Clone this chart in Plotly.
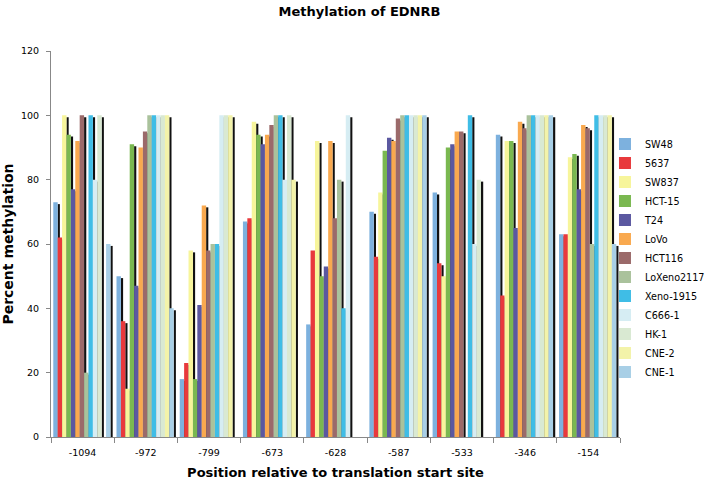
import plotly.graph_objects as go

categories = ["-1094", "-972", "-799", "-673", "-628", "-587", "-533", "-346", "-154"]

series_names = ["SW48", "5637", "SW837", "HCT-15", "T24", "LoVo", "HCT116",
                "LoXeno2117", "Xeno-1915", "C666-1", "HK-1", "CNE-2", "CNE-1"]

series_colors = ["#7DB1DE", "#E8393C", "#F7F59B", "#7AB850", "#5B58A0", "#F9A94F",
                 "#9B6A6A", "#AAC29C", "#3FBDE6", "#D6EDF3", "#D9E9D2", "#F3F3A9", "#A8CFE6"]

SW48 = [73, 50, 18, 67, 35, 70, 76, 94, 63]
v5637 = [62, 36, 23, 68, 58, 56, 54, 44, 63]
SW837 = [100, 15, 58, 98, 92, 76, 50, 92, 87]
HCT15 = [94, 91, 18, 94, 50, 89, 90, 92, 88]
T24 = [77, 47, 41, 91, 53, 93, 91, 65, 77]
LoVo = [92, 90, 72, 94, 92, 92, 95, 98, 97]
HCT116 = [100, 95, 58, 97, 68, 99, 95, 96, 96]
LoXeno2117 = [20, 100, 60, 100, 80, 100, None, 100, 60]
Xeno1915 = [100, 100, 60, 100, 40, 100, 100, 100, 100]
C666_1 = [80, 100, 100, 80, 100, 100, 60, 100, 100]
HK_1 = [100, 100, 100, 100, None, 100, 80, 100, 100]
CNE_2 = [None, 100, 100, 80, None, 100, None, 100, 100]
CNE_1 = [60, 40, None, None, None, 100, None, 100, 60]

series_values = [SW48, v5637, SW837, HCT15, T24, LoVo, HCT116,
                 LoXeno2117, Xeno1915, C666_1, HK_1, CNE_2, CNE_1]

n = len(series_names)
w = 0.0696
start = -0.464
shadow_drop = 0.6

fig = go.Figure()

# shadows (drawn first, behind all bars)
for i, vals in enumerate(series_values):
    sh = [None if v is None else max(v - shadow_drop, 0) for v in vals]
    fig.add_trace(go.Bar(
        x=categories, y=sh, width=w * 0.5, offset=start + (i + 1) * w,
        marker=dict(color="#111111", line=dict(width=0)),
        showlegend=False, hoverinfo="skip"))

for i, (name, vals) in enumerate(zip(series_names, series_values)):
    fig.add_trace(go.Bar(
        x=categories, y=vals, name=name, width=w, offset=start + i * w,
        marker=dict(color=series_colors[i], line=dict(width=0))))

fig.update_layout(
    width=709, height=481,
    barmode="overlay",
    paper_bgcolor="white", plot_bgcolor="white",
    margin=dict(l=51, r=89, t=51, b=44, autoexpand=False),
    font=dict(family="DejaVu Sans", size=10, color="#000000"),
    title=dict(text="<b>Methylation of EDNRB</b>", x=0.507, xanchor="center",
               y=1 - 11 / 481, yanchor="middle",
               font=dict(family="DejaVu Sans", size=13, color="#000000")),
    legend=dict(x=0.9736, xanchor="left", y=0.464, yanchor="middle",
                bgcolor="rgba(0,0,0,0)", font=dict(family="DejaVu Sans", size=9.6),
                itemwidth=30, tracegroupgap=0),
    showlegend=True,
)

fig.update_xaxes(
    type="category", range=[-0.5, 8.5], showgrid=False, showline=True,
    linecolor="#888888", linewidth=1,
    ticks="outside", tickson="boundaries", ticklen=5, tickcolor="#888888",
    ticklabelstandoff=7,
    tickfont=dict(family="DejaVu Sans", size=9.5), automargin=False,
    title=dict(text="<b>Position relative to translation start site</b>",
               font=dict(family="DejaVu Sans", size=13), standoff=10),
)
fig.update_yaxes(
    range=[0, 120], dtick=20, showgrid=False, showline=True, linecolor="#888888",
    linewidth=1, ticks="outside", ticklen=4, tickcolor="#888888", ticklabelstandoff=5,
    tickfont=dict(family="DejaVu Sans", size=9.5), automargin=False, zeroline=False,
    title=dict(text="<b>Percent methylation</b>",
               font=dict(family="DejaVu Sans", size=14), standoff=13),
)

fig.write_html("out.html", config={"displayModeBar": False},
               post_script="document.body.style.margin='0';document.body.style.overflow='hidden';")
